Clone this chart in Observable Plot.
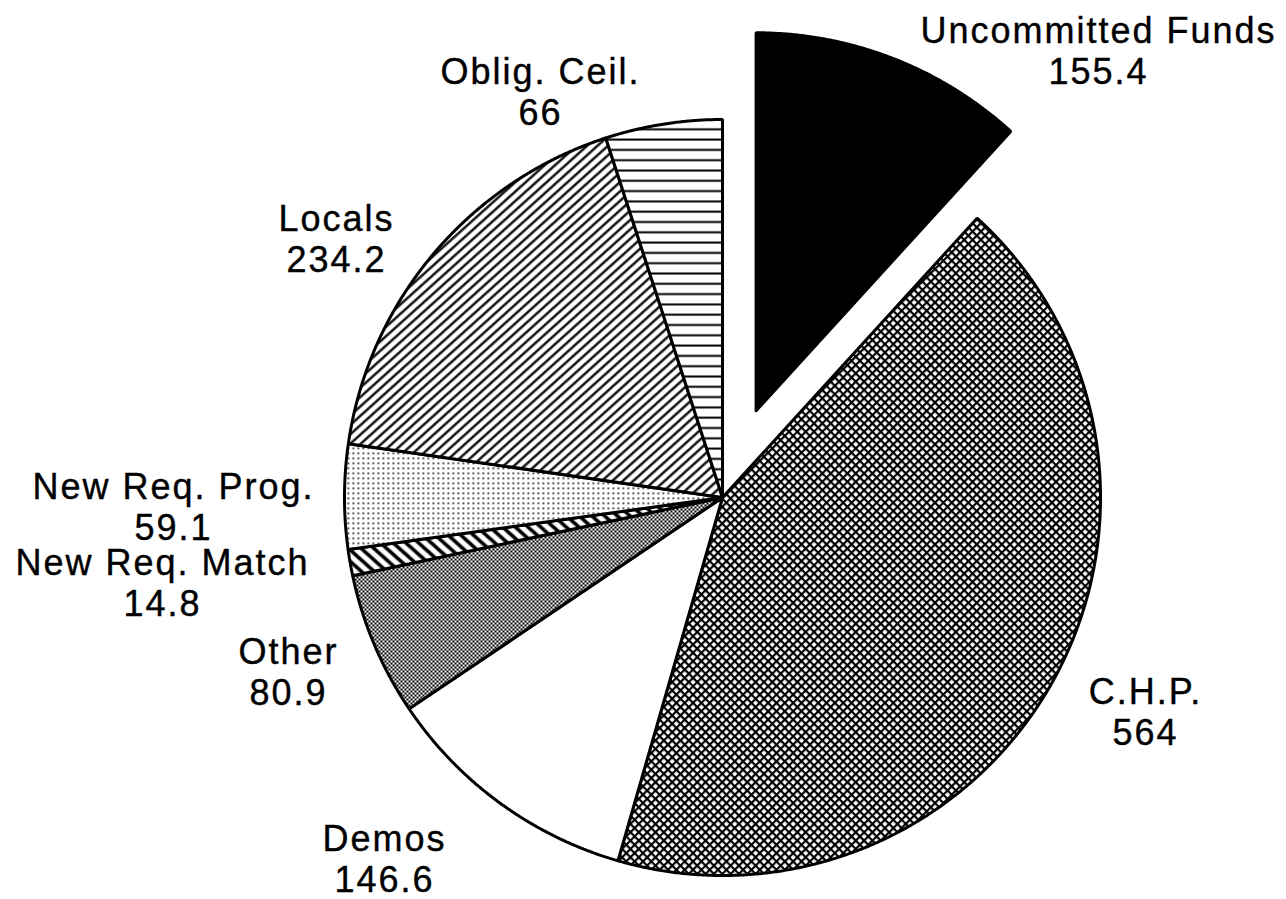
<!DOCTYPE html>
<html>
<head>
<meta charset="utf-8">
<script src="https://cdn.jsdelivr.net/npm/d3@7"></script>
<script src="https://cdn.jsdelivr.net/npm/@observablehq/plot@0.6"></script>
<style>
  html, body { margin: 0; padding: 0; background: #fff; }
  #chart { width: 1286px; height: 899px; }
</style>
</head>
<body>
<div id="chart"></div>
<script>
// ---- data ----
const categories = ["Uncommitted Funds", "C.H.P.", "Demos", "Other", "New Req. Match", "New Req. Prog.", "Locals", "Oblig. Ceil."];
const values = [155.4, 564, 146.6, 80.9, 14.8, 59.1, 234.2, 66];
const valueLabels = ["155.4", "564", "146.6", "80.9", "14.8", "59.1", "234.2", "66"];
const exploded = ["Uncommitted Funds"];

// ---- layout / style ----
const W = 1286, H = 899;
const CX = 722, CY = 497, R = 378;       // pie centre and radius in pixels
const explodeDist = 93 / R;              // offset of exploded slice, in radius units
const fills = {
  "Uncommitted Funds": "black",
  "C.H.P.": "url(#p-cross)",
  "Demos": "white",
  "Other": "url(#p-stipple)",
  "New Req. Match": "url(#p-back)",
  "New Req. Prog.": "url(#p-dots)",
  "Locals": "url(#p-fwd)",
  "Oblig. Ceil.": "url(#p-horiz)"
};
// label block centres (pixels)
const labelPos = {
  "Uncommitted Funds": [1098, 50],
  "C.H.P.": [1145, 711],
  "Demos": [384, 858],
  "Other": [288, 671],
  "New Req. Match": [162, 582],
  "New Req. Prog.": [173, 506],
  "Locals": [336, 238],
  "Oblig. Ceil.": [540, 91]
};

// ---- build slice outlines in radius units (y up) ----
const arcs = d3.pie().sort(null).value(d => d)(values);
const slices = arcs.map((a, i) => {
  const name = categories[i];
  const mid = (a.startAngle + a.endAngle) / 2;
  const off = exploded.includes(name) ? explodeDist : 0;
  const ox = off * Math.sin(mid), oy = off * Math.cos(mid);
  const pts = [{x: ox, y: oy}];
  const n = Math.max(8, Math.ceil((a.endAngle - a.startAngle) / (Math.PI / 720)));
  for (let k = 0; k <= n; k++) {
    const t = a.startAngle + (a.endAngle - a.startAngle) * k / n;
    pts.push({x: ox + Math.sin(t), y: oy + Math.cos(t)});
  }
  pts.push({x: ox, y: oy});
  return {name, pts};
});

const labels = categories.map((c, i) => ({
  text: c + "\n" + valueLabels[i],
  x: (labelPos[c][0] - CX) / R,
  y: (CY - labelPos[c][1]) / R
}));

const marks = slices.map(s =>
  Plot.line(s.pts, {x: "x", y: "y", fill: fills[s.name], stroke: "black", strokeWidth: 3, strokeLinejoin: "miter", curve: "linear"})
);
marks.push(Plot.text(labels, {
  x: "x", y: "y", text: "text", fontSize: 36, lineHeight: 1.15,
  textAnchor: "middle", lineAnchor: "middle", fill: "black", stroke: "black", strokeWidth: 0.4
}));

const chart = Plot.plot({
  width: W, height: H,
  margin: 0,
  x: {domain: [-CX / R, (W - CX) / R], axis: null},
  y: {domain: [-(H - CY) / R, CY / R], axis: null},
  style: {fontFamily: "'Liberation Sans', Arial, Helvetica, sans-serif", letterSpacing: "2px", background: "white", overflow: "visible"},
  marks
});

// pattern definitions
const defs = `
<defs>
  <pattern id="p-horiz" patternUnits="userSpaceOnUse" width="12" height="10.3">
    <rect width="12" height="10.3" fill="white"/>
    <rect y="4.2" width="12" height="2" fill="black"/>
  </pattern>
  <pattern id="p-fwd" patternUnits="userSpaceOnUse" width="10" height="7" patternTransform="rotate(-42)">
    <rect width="10" height="7" fill="white"/>
    <rect y="2.3" width="10" height="2.3" fill="black"/>
  </pattern>
  <pattern id="p-back" patternUnits="userSpaceOnUse" width="10" height="8.5" patternTransform="rotate(42)">
    <rect width="10" height="8.5" fill="white"/>
    <rect y="2.5" width="10" height="3.6" fill="black"/>
  </pattern>
  <pattern id="p-dots" patternUnits="userSpaceOnUse" width="5" height="5">
    <rect width="5" height="5" fill="white"/>
    <rect x="2" y="2" width="1.6" height="1.6" fill="black"/>
  </pattern>
  <pattern id="p-stipple" patternUnits="userSpaceOnUse" width="4" height="4">
    <rect width="4" height="4" fill="white"/>
    <rect x="0" y="0" width="2" height="2" fill="black"/>
    <rect x="2" y="2" width="2" height="2" fill="black"/>
  </pattern>
  <pattern id="p-cross" patternUnits="userSpaceOnUse" width="5.9" height="5.9" patternTransform="rotate(45)">
    <rect width="5.9" height="5.9" fill="black"/>
    <rect x="2.2" y="2.2" width="3.7" height="3.7" fill="white"/>
  </pattern>
</defs>`;
const tmp = new DOMParser().parseFromString(`<svg xmlns="http://www.w3.org/2000/svg">${defs}</svg>`, "image/svg+xml");
chart.insertBefore(document.importNode(tmp.documentElement.firstElementChild, true), chart.firstChild);

document.getElementById("chart").appendChild(chart);
</script>
</body>
</html>
